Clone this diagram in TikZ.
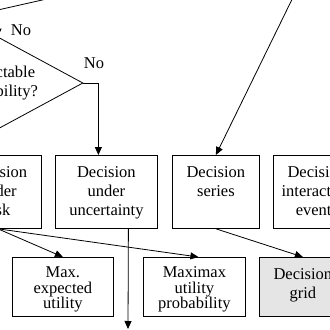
\documentclass[tikz,border=0pt]{standalone}
\usepackage{fontspec}
\setmainfont{Liberation Serif}
\usetikzlibrary{arrows.meta,shapes.geometric}
\newcommand\boxtxt[4]{\parbox[c][#2][t]{#1}{\centering\rule{0pt}{#3}#4\par}}
\begin{document}
\begin{tikzpicture}[x=1pt,y=-1pt,
  line width=0.8pt,
  font=\fontsize{16.5}{19}\selectfont,
  arr/.style={-{Triangle[length=8pt,width=7pt]}},
  box/.style={draw, inner sep=0pt, anchor=north west},
  tight/.style={font=\fontsize{16.5}{15.5}\selectfont},
]
\useasboundingbox (0,0) rectangle (330,330);
\clip (0,0) rectangle (330,330);

% top fragments
\coordinate (ta) at (-20,14);
\coordinate (tb) at (60,-4);
\draw (ta) -- (tb);

\node[draw, diamond, aspect=1.85, minimum width=170pt, minimum height=92pt,
      inner sep=0pt, align=center] (dia) at (-2,83) {Predictable\\probability?};
\coordinate (topin) at (-2,-5);
\draw[arr] (topin) -- (dia.north);
\node (no1) at (21,30) {No};
\node (no2) at (94,63) {No};

% row 1
\node[box] (risk) at (-46,155) {\boxtxt{87pt}{73pt}{22pt}{Decision\\under\\risk}};
\node[box] (uncert) at (55,155) {\boxtxt{102pt}{73pt}{22pt}{Decision\\under\\uncertainty}};
\node[box] (series) at (172,155) {\boxtxt{87pt}{73pt}{22pt}{Decision\\series}};
\node[box] (inter) at (273,155) {\boxtxt{87pt}{73pt}{22pt}{Decision\\interacting\\events}};

% row 2
\node[box, tight] (maxeu) at (12,257) {\boxtxt{101pt}{59pt}{20.5pt}{Max.\\expected\\utility}};
\node[box, tight] (maximax) at (143,257) {\boxtxt{102pt}{59pt}{20.5pt}{Maximax\\utility\\probability}};
\node[box, fill=black!10] (grid) at (259,257) {\boxtxt{87pt}{59pt}{22pt}{Decision\\grid}};

% connectors
\draw[arr] (dia.east) -| ([xshift=-8pt]uncert.north);
\coordinate (src1) at (300,-17);
\draw[arr] (src1) -- (series.north);
\coordinate (src2) at (380,40);
\draw[arr] (src2) -- ([xshift=15pt]inter.north);
\draw[arr] (risk.south) -- (maxeu.north);
\draw[arr] (risk.south) -- ([xshift=4pt]maximax.north);
\draw[arr] (series.south) -- (grid.north);
\coordinate (down) at (128,329);
\draw[arr] ([xshift=22pt]uncert.south) -- (down);
\end{tikzpicture}
\end{document}
